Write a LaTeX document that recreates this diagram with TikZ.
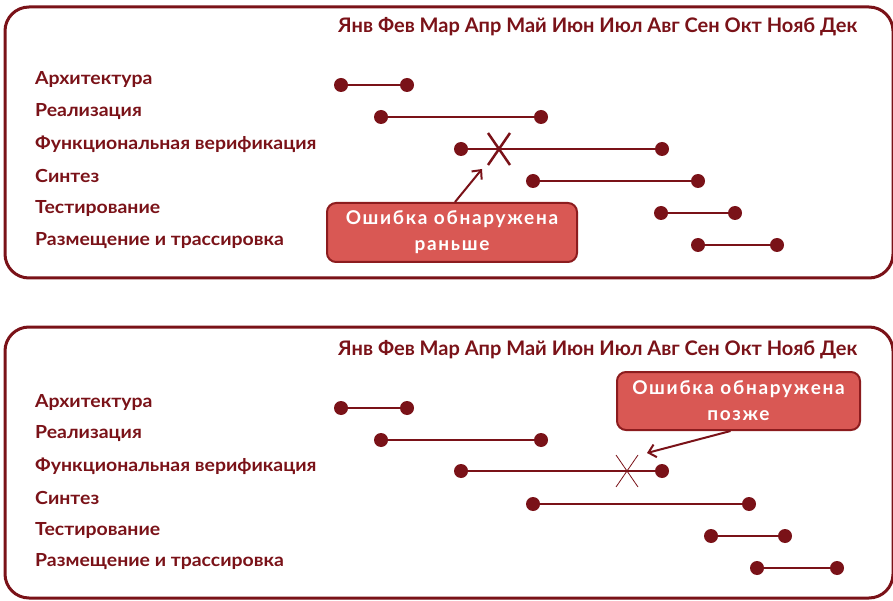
\documentclass[tikz,border=0pt]{standalone}
\usepackage{fontspec}
\setmainfont{Lato}
\newfontfamily\lblfont[FakeStretch=1.08]{Lato}
\newfontfamily\callfont[LetterSpace=9]{Lato}
\usetikzlibrary{arrows.meta}
\definecolor{mred}{RGB}{122,18,24}
\definecolor{cfill}{RGB}{217,88,84}
\definecolor{cedge}{RGB}{140,28,30}
\begin{document}
\begin{tikzpicture}[x=1pt,y=-1pt,
  frame/.style={draw=mred,line width=3pt,rounded corners=24pt},
  dot/.style={circle,fill=mred,inner sep=0pt,minimum size=14pt},
  bar/.style={draw=mred,line width=2.4pt},
  lbl/.style={anchor=west,text=mred,font=\lblfont\fontsize{18}{20}\selectfont\bfseries,inner sep=0pt},
  months/.style={anchor=west,text=mred,font=\fontsize{16.5}{18}\selectfont\bfseries,inner sep=0pt},
  callout/.style={draw=cedge,fill=cfill,line width=2pt,rounded corners=9pt,text=white,align=center,font=\callfont\fontsize{19}{26}\selectfont\bfseries,inner sep=0pt},
  arr/.style={draw=mred,line width=2pt,-{Straight Barb[length=7pt,width=13pt,line width=2pt]}}]
\useasboundingbox (0,0) rectangle (893,601);
% ===== top panel =====
\draw[frame] (5,7) rectangle (893,278);
\node[months] (mt) at (338,27) {\resizebox{519pt}{!}{Янв Фев Мар Апр Май Июн Июл Авг Сен Окт Нояб Дек}};
\node[lbl] (la1) at (35,80) {Архитектура};
\node[lbl] (la2) at (35,112) {Реализация};
\node[lbl] (la3) at (35,144) {Функциональная верификация};
\node[lbl] (la4) at (35,176) {Синтез};
\node[lbl] (la5) at (35,209) {Тестирование};
\node[lbl] (la6) at (35,241) {Размещение и трассировка};
\node[dot] (a1s) at (341,85) {}; \node[dot] (a1e) at (407,85) {};
\node[dot] (a2s) at (381,117) {}; \node[dot] (a2e) at (541,117) {};
\node[dot] (a3s) at (461,149) {}; \node[dot] (a3e) at (662,149) {};
\node[dot] (a4s) at (533,181) {}; \node[dot] (a4e) at (698,181) {};
\node[dot] (a5s) at (661,213) {}; \node[dot] (a5e) at (735,213) {};
\node[dot] (a6s) at (698,245) {}; \node[dot] (a6e) at (777,245) {};
\foreach \i in {1,...,6} {\draw[bar] (a\i s) -- (a\i e);}
\coordinate (xa) at (499,149);
\draw[mred,line width=2.5pt] ([shift={(-11,-16)}]xa) -- ([shift={(11,16)}]xa);
\draw[mred,line width=2.5pt] ([shift={(11,-16)}]xa) -- ([shift={(-11,16)}]xa);
\node[callout,minimum width=250pt,minimum height=59pt] (ca) at (452,232.5) {Ошибка обнаружена\\раньше};
\coordinate (ta) at (482,169);
\draw[arr] ([xshift=3pt]ca.north) -- (ta);
% ===== bottom panel =====
\draw[frame] (5,327) rectangle (893,598);
\node[months] (mb) at (338,350) {\resizebox{519pt}{!}{Янв Фев Мар Апр Май Июн Июл Авг Сен Окт Нояб Дек}};
\node[lbl] (lb1) at (35,402) {Архитектура};
\node[lbl] (lb2) at (35,434) {Реализация};
\node[lbl] (lb3) at (35,466) {Функциональная верификация};
\node[lbl] (lb4) at (35,498) {Синтез};
\node[lbl] (lb5) at (35,530) {Тестирование};
\node[lbl] (lb6) at (35,562) {Размещение и трассировка};
\node[dot] (b1s) at (341,408) {}; \node[dot] (b1e) at (407,408) {};
\node[dot] (b2s) at (381,440) {}; \node[dot] (b2e) at (541,440) {};
\node[dot] (b3s) at (461,471) {}; \node[dot] (b3e) at (662,471) {};
\node[dot] (b4s) at (533,504) {}; \node[dot] (b4e) at (749,504) {};
\node[dot] (b5s) at (711,536) {}; \node[dot] (b5e) at (785,536) {};
\node[dot] (b6s) at (757,568) {}; \node[dot] (b6e) at (837,568) {};
\foreach \i in {1,...,6} {\draw[bar] (b\i s) -- (b\i e);}
\coordinate (xb) at (627,471);
\draw[mred,line width=0.8pt] ([shift={(-11,-16)}]xb) -- ([shift={(11,16)}]xb);
\draw[mred,line width=0.8pt] ([shift={(11,-16)}]xb) -- ([shift={(-11,16)}]xb);
\node[callout,minimum width=243pt,minimum height=58pt] (cb) at (738.5,401) {Ошибка обнаружена\\позже};
\coordinate (tb) at (647,453);
\draw[arr] ([xshift=-8pt]cb.south) -- (tb);
\end{tikzpicture}
\end{document}
